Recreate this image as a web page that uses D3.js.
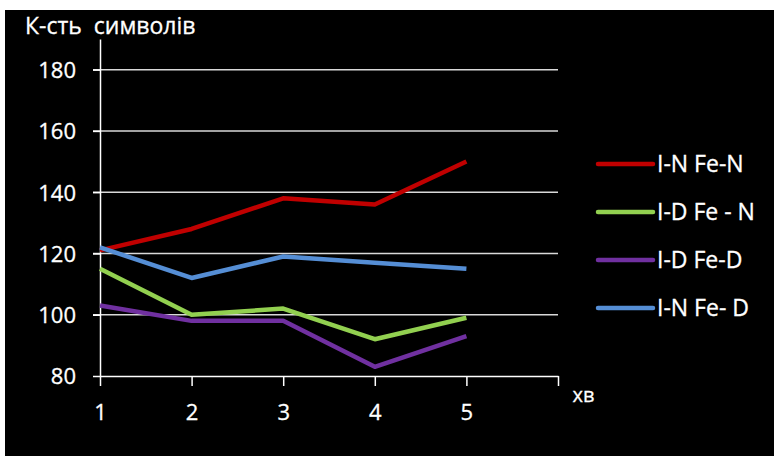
<!DOCTYPE html>
<html>
<head>
<meta charset="utf-8">
<script src="https://cdn.jsdelivr.net/npm/d3@7"></script>
<style>
    body { margin: 0; background: #fff; }
    text { font-family: "Open Sans", Lato, sans-serif; fill: #fff; stroke: #fff; stroke-width: 0.3px; }
</style>
</head>
<body>
<div id="chart"></div>
<script>
// chart data
var categories = [1, 2, 3, 4, 5];
var seriesNames = ['I-N Fe-N', 'I-D Fe - N', 'I-D Fe-D', 'I-N Fe- D'];
var seriesColors = ['#c00000', '#92d050', '#7030a0', '#558ed5'];
var inFeN = [121, 128, 138, 136, 150];
var idFeN = [115, 100, 102, 92, 99];
var idFeD = [103, 98, 98, 83, 93];
var inFeD = [122, 112, 119, 117, 115];
var yTicks = [80, 100, 120, 140, 160, 180];
var xTickLabels = ['1', '2', '3', '4', '5', 'хв'];

var series = [inFeN, idFeN, idFeD, inFeD];

var width = 774, height = 456;

var svg = d3.select('#chart').append('svg')
    .attr('width', width)
    .attr('height', height);

// black panel
svg.append('rect')
    .attr('x', 5).attr('y', 10)
    .attr('width', width - 5).attr('height', height - 10)
    .style('fill', '#000');

var x = d3.scalePoint()
    .domain([1, 2, 3, 4, 5, 6])
    .range([100, 558]);

var y = d3.scaleLinear()
    .domain([80, 190])
    .range([376, 39]);

// gridlines
svg.append('g')
    .selectAll('line')
    .data(yTicks.slice(1))
    .enter().append('line')
    .attr('x1', 93)
    .attr('x2', 558)
    .attr('y1', function(d) { return y(d); })
    .attr('y2', function(d) { return y(d); })
    .style('stroke', '#d9d9d9')
    .style('stroke-width', 1.5);

// y axis
var yAxis = d3.axisLeft(y).tickValues(yTicks).tickSize(7).tickSizeOuter(0).tickPadding(17);
var yG = svg.append('g')
    .attr('transform', 'translate(100,0)')
    .call(yAxis);
yG.select('.domain').style('stroke', '#fff').style('stroke-width', 1.5);
yG.selectAll('.tick line').style('stroke', '#fff').style('stroke-width', 1.5);
yG.selectAll('.tick text').style('font-size', '22px').attr('dy', '0.36em');

// x axis
var xAxis = d3.axisBottom(x)
    .tickSize(10)
    .tickSizeOuter(0)
    .tickPadding(18)
    .tickFormat(function(d, i) { return xTickLabels[i]; });
var xG = svg.append('g')
    .attr('transform', 'translate(0,376)')
    .call(xAxis);
xG.select('.domain').style('stroke', '#fff').style('stroke-width', 1.5);
xG.selectAll('.tick line').style('stroke', '#fff').style('stroke-width', 1.5);
xG.selectAll('.tick text').style('font-size', '22px');
xG.selectAll('.tick text').filter(function(d) { return d === 6; })
    .style('font-size', '20px')
    .attr('dx', 25)
    .attr('dy', '-0.1em');

// lines
var valueLine = d3.line()
    .x(function(d, i) { return x(categories[i]); })
    .y(function(d) { return y(d); });

svg.append('g')
    .selectAll('path')
    .data(series)
    .enter().append('path')
    .attr('d', valueLine)
    .style('fill', 'none')
    .style('stroke', function(d, i) { return seriesColors[i]; })
    .style('stroke-width', 4.5)
    .style('stroke-linejoin', 'round');

// legend
var legend = svg.append('g')
    .attr('transform', 'translate(598,164)');

var items = legend.selectAll('g')
    .data(seriesNames)
    .enter().append('g')
    .attr('transform', function(d, i) { return 'translate(0,' + (i * 48) + ')'; });

items.append('line')
    .attr('x1', 0).attr('x2', 55)
    .style('stroke', function(d, i) { return seriesColors[i]; })
    .style('stroke-width', 4.5)
    .style('stroke-linecap', 'round');

items.append('text')
    .attr('x', 59)
    .attr('dy', '0.36em')
    .style('font-size', '23px')
    .text(function(d) { return d; });

// axis title
svg.append('text')
    .attr('x', 25)
    .attr('y', 34)
    .style('font-size', '23px')
    .style('white-space', 'pre')
    .text('К-сть  символів');
</script>
</body>
</html>
